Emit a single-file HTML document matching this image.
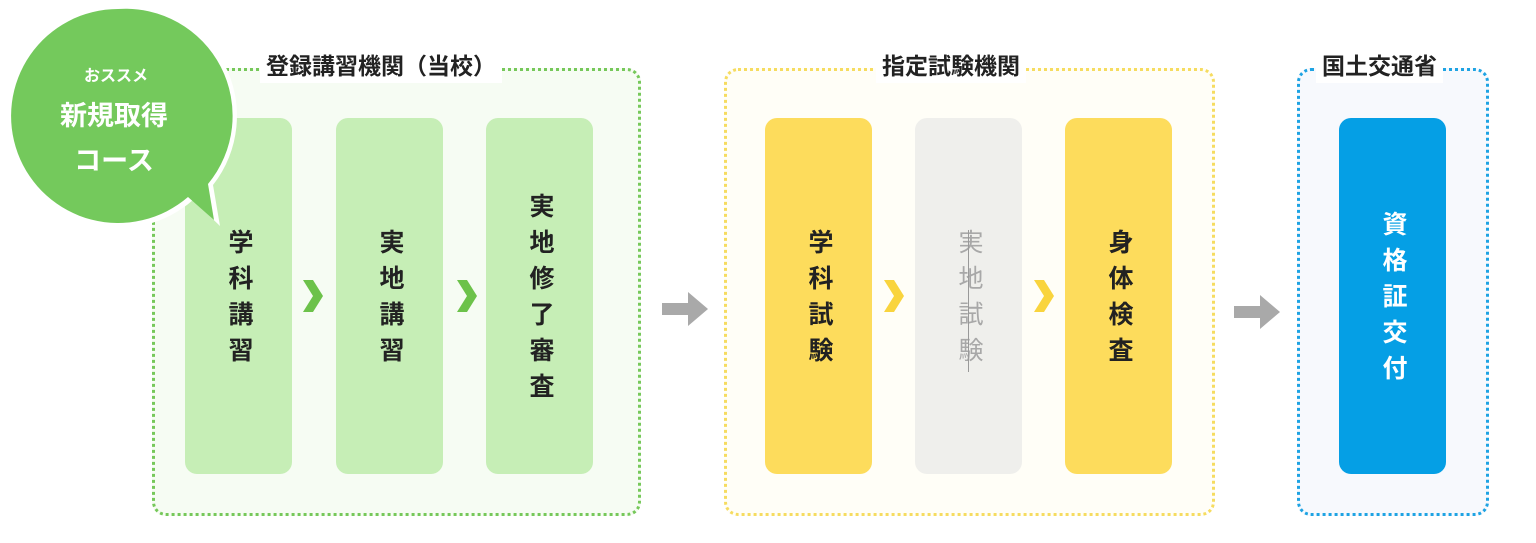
<!DOCTYPE html>
<html><head><meta charset="utf-8"><style>
*{margin:0;padding:0;box-sizing:border-box}
body{width:1536px;height:543px;background:#fff;position:relative;overflow:hidden;font-family:"Liberation Sans","Noto Sans CJK JP",sans-serif}
.grp{position:absolute;top:68px;height:448px;border:3px dotted;border-radius:14px}
.lbl{position:absolute;top:49px;font-size:23px;font-weight:bold;color:#222;background:#fff;padding:0 6px;line-height:34px;white-space:nowrap}
.card{position:absolute;top:118px;width:107px;height:356px;border-radius:12px;display:flex;align-items:center;justify-content:center;padding-top:10px}
.v{writing-mode:vertical-rl;font-size:25px;font-weight:bold;letter-spacing:11px;color:#222;line-height:1}
</style></head><body>
<div class="grp" style="left:152px;width:489px;border-color:#76c85a;background:#f6fcf3"></div>
<div class="grp" style="left:724px;width:491px;border-color:#f6dc60;background:#fffef7"></div>
<div class="grp" style="left:1297px;width:192px;border-color:#1ea3e3;background:#f7f9fd"></div>
<div class="lbl" style="left:260px">登録講習機関（当校）</div>
<div class="lbl" style="left:876px">指定試験機関</div>
<div class="lbl" style="left:1316px">国土交通省</div>

<div class="card" style="left:185px;background:#c6eeb6"><span class="v">学科講習</span></div>
<div class="card" style="left:336px;background:#c6eeb6"><span class="v">実地講習</span></div>
<div class="card" style="left:486px;background:#c6eeb6"><span class="v">実地修了審査</span></div>
<div class="card" style="left:765px;background:#fddc5c"><span class="v">学科試験</span></div>
<div class="card" style="left:915px;background:#efefec"><span class="v" style="color:#a8a8a8;font-weight:normal">実地試験</span><div style="position:absolute;left:53px;top:112px;width:1px;height:142px;background:#999"></div></div>
<div class="card" style="left:1065px;background:#fddc5c"><span class="v">身体検査</span></div>
<div class="card" style="left:1339px;background:#059fe5"><span class="v" style="color:#fff">資格証交付</span></div>

<svg width="1536" height="543" style="position:absolute;left:0;top:0">
<g fill="#6cc24a"><path d="M303 280h10l10 16-10 16h-10l10-16z"/><path d="M457 280h10l10 16-10 16h-10l10-16z"/></g>
<g fill="#f9d43e"><path d="M884 280h10l10 16-10 16h-10l10-16z"/><path d="M1034 280h10l10 16-10 16h-10l10-16z"/></g>
<g fill="#a9a9a9"><path d="M662 303h26v-11l20 17-20 17v-11h-26z"/><path d="M1234 306h26v-11l20 17-20 17v-11h-26z"/></g>
<path d="M118 4a112 112 0 1 0 75 196l27 26-7-41a112 112 0 0 0-95-181z" fill="#fff"/>
<path d="M118 9a107 107 0 1 0 70 188l26 23-6-36a107 107 0 0 0-90-175z" fill="#74c95c"/>
<text x="116" y="81" fill="#fff" font-size="16" font-weight="bold" text-anchor="middle" font-family="Liberation Sans,Noto Sans CJK JP,sans-serif">おススメ</text>
<text x="114" y="125" fill="#fff" font-size="27" font-weight="bold" text-anchor="middle" font-family="Liberation Sans,Noto Sans CJK JP,sans-serif">新規取得</text>
<text x="114" y="170" fill="#fff" font-size="27" font-weight="bold" text-anchor="middle" font-family="Liberation Sans,Noto Sans CJK JP,sans-serif">コース</text>
</svg>
</body></html>
